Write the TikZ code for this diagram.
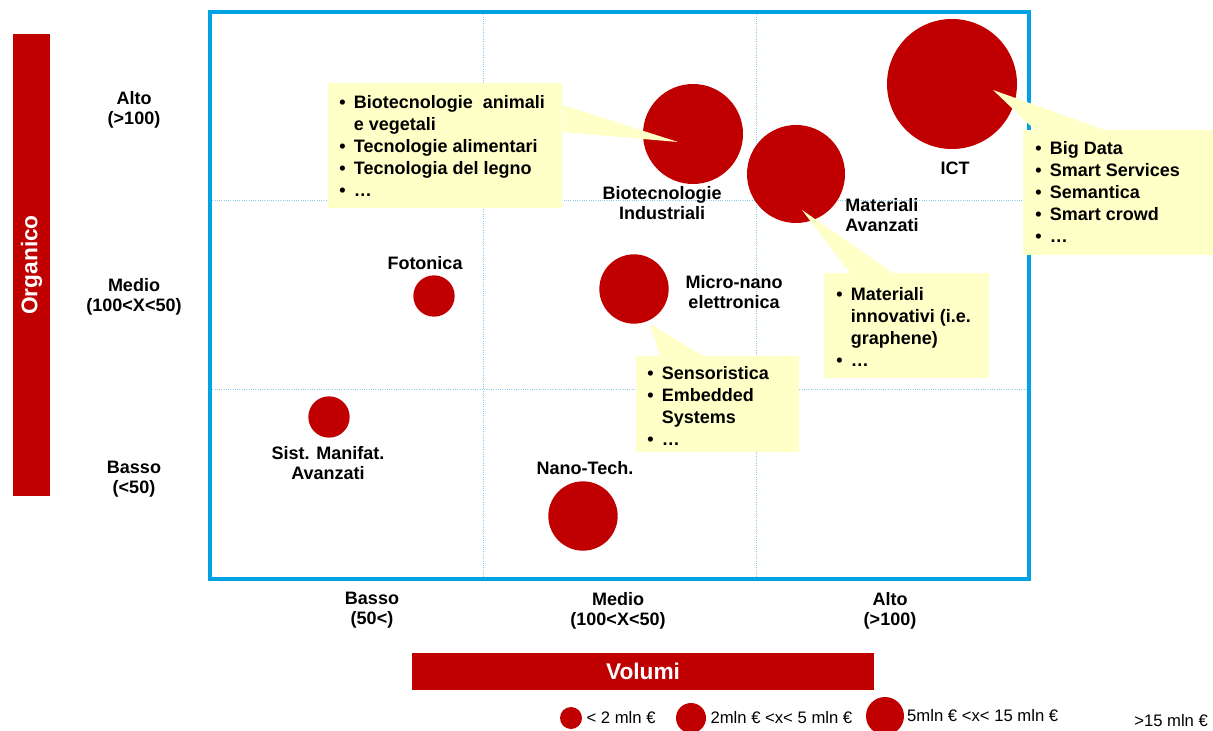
\documentclass[tikz,border=0pt]{standalone}
\usepackage{fontspec}
\setmainfont{Liberation Sans}
\usetikzlibrary{positioning,calc}
\definecolor{bubblered}{RGB}{192,0,0}
\definecolor{frameblue}{RGB}{0,162,226}
\definecolor{gridblue}{RGB}{140,202,236}
\definecolor{callyellow}{RGB}{255,255,200}
\newcommand{\bul}{\makebox[11pt][l]{•}}
\newcommand{\ind}{\hspace*{11pt}}
\begin{document}
\begin{tikzpicture}[x=0.75pt,y=-0.75pt,bubble/.style={circle,fill=bubblered,inner sep=0pt},lab/.style={font=\fontsize{13.5}{15}\selectfont\bfseries,align=center,inner sep=0pt},bar/.style={fill=bubblered,text=white,font=\fontsize{17}{20}\selectfont\bfseries,inner sep=0pt,minimum width=347pt,minimum height=27.75pt},callbox/.style={fill=callyellow,inner sep=0pt,anchor=north west},calltext/.style={font=\fontsize{13.5}{16.5}\selectfont\bfseries,align=left,inner sep=0pt,anchor=north west},gridline/.style={gridblue,densely dotted,line width=0.7pt},legtext/.style={font=\fontsize{12.5}{14}\selectfont,inner sep=0pt}]
\useasboundingbox (0,0) rectangle (1213,731);

\draw[gridline] (483,12) -- (483,579);
\draw[gridline] (756,12) -- (756,579);
\draw[gridline] (210,200) -- (1029,200);
\draw[gridline] (210,389) -- (1029,389);
\draw[frameblue,line width=2.8pt] (210,12) rectangle (1029,579);

\node[bar,rotate=90] (organico) at (31.5,265) {Organico};
\node[bar] (volumi) at (643,671.5) {Volumi};

\node[lab] (yAlto) at (134,110) {Alto\\(>100)};
\node[lab] (yMedio) at (134,297) {Medio\\(100<X<50)};
\node[lab] (yBasso) at (134,479) {Basso\\(<50)};
\node[lab] (xBasso) at (372,610) {Basso\\(50<)};
\node[lab] (xMedio) at (618,611) {Medio\\(100<X<50)};
\node[lab] (xAlto) at (890,611) {Alto\\(>100)};

\node[bubble,minimum size=97.5pt] (ict) at (952,84) {};
\node[bubble,minimum size=75pt] (bio) at (693,134) {};
\node[bubble,minimum size=73.5pt] (mat) at (796,174) {};
\node[bubble,minimum size=52pt] (micro) at (634,289) {};
\node[bubble,minimum size=52pt] (nano) at (583,516) {};
\node[bubble,minimum size=31pt] (foto) at (434,296) {};
\node[bubble,minimum size=31pt] (sist) at (329,417) {};

\node[lab] (ictL) at (955,168) {ICT};
\node[lab] (bioL) at (662,203) {Biotecnologie\\Industriali};
\node[lab,align=left] (matL) at (882,215) {Materiali\\Avanzati};
\node[lab] (microL) at (734,292) {Micro-nano\\elettronica};
\node[lab] (nanoL) at (585,468) {Nano-Tech.};
\node[lab] (fotoL) at (425,263) {Fotonica};
\node[lab] (sistL) at (328,463) {Sist. Manifat.\\Avanzati};

\node[callbox,minimum width=175.5pt,minimum height=93.75pt] (bioBox) at (328,83) {};
\node[callbox,minimum width=142.5pt,minimum height=93.75pt] (ictBox) at (1023,130) {};
\node[callbox,minimum width=123.75pt,minimum height=78.75pt] (matBox) at (824,273) {};
\node[callbox,minimum width=122.25pt,minimum height=72pt] (senBox) at (636,356) {};

\coordinate (bioTip) at ($(bio.center)+(-15,8)$);
\coordinate (ictTip) at ($(ict.center)+(41,6)$);
\coordinate (matTip) at ($(mat.center)+(6,36)$);
\coordinate (senTip) at ($(micro.center)+(16,35)$);
\fill[callyellow] ($(bioBox.north east)+(0,22)$) -- (bioTip) -- ($(bioBox.north east)+(0,49)$) -- cycle;
\fill[callyellow] ($(ictBox.north west)+(12,0)$) -- (ictTip) -- ($(ictBox.north west)+(82,0)$) -- cycle;
\fill[callyellow] ($(matBox.north west)+(26,0)$) -- (matTip) -- ($(matBox.north west)+(69,0)$) -- cycle;
\fill[callyellow] ($(senBox.north west)+(24,0)$) -- (senTip) -- ($(senBox.north west)+(67,0)$) -- cycle;

\node[calltext] (bioText) at ($(bioBox.north west)+(11,12)$) {\bul Biotecnologie\ \ animali\\\ind e vegetali\\\bul Tecnologie alimentari\\\bul Tecnologia del legno\\\bul …};
\node[calltext] (ictText) at ($(ictBox.north west)+(12,11)$) {\bul Big Data\\\bul Smart Services\\\bul Semantica\\\bul Smart crowd\\\bul …};
\node[calltext] (matText) at ($(matBox.north west)+(12,14)$) {\bul Materiali\\\ind innovativi (i.e.\\\ind graphene)\\\bul …};
\node[calltext] (senText) at ($(senBox.north west)+(11,10)$) {\bul Sensoristica\\\bul Embedded\\\ind Systems\\\bul …};

\node[bubble,minimum size=16.5pt] (leg1) at (571,718) {};
\node[bubble,minimum size=22.5pt] (leg2) at (691,718) {};
\node[bubble,minimum size=28.5pt] (leg3) at (885,716) {};
\node[legtext,right=3pt of leg1] (leg1T) {< 2 mln €};
\node[legtext,right=3pt of leg2] (leg2T) {2mln € <x< 5 mln €};
\node[legtext,right=2pt of leg3] (leg3T) {5mln € <x< 15 mln €};
\node[legtext,anchor=west] (leg4T) at (1134,721) {>15 mln €};
\end{tikzpicture}
\end{document}
